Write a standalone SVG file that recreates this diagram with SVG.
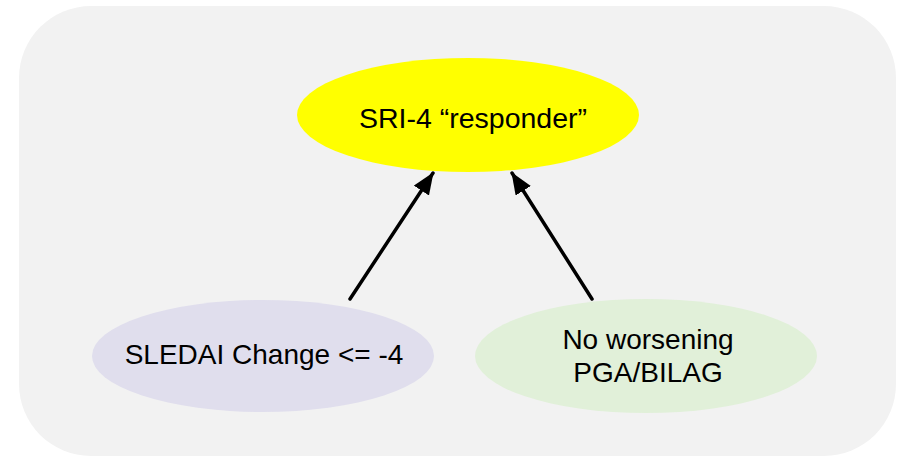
<svg xmlns="http://www.w3.org/2000/svg" width="897" height="456" viewBox="0 0 897 456">
<style>
text{font-family:"Liberation Sans",Arial,sans-serif;fill:#000;text-anchor:middle}
.t{font-size:28.5px}
.b{font-size:28px}
.c{stroke:#000;stroke-width:3.5;fill:none;stroke-linecap:round}
</style>
<defs>
<marker id="ah" markerUnits="userSpaceOnUse" markerWidth="22" markerHeight="18" refX="21" refY="9" orient="auto">
<path d="M0,0 L22,9 L0,18 Z" fill="#000"/>
</marker>
</defs>
<rect x="19" y="6" width="877" height="450" rx="72" ry="72" fill="#f2f2f2"/>
<g id="connectors">
<line class="c" x1="350" y1="299" x2="433" y2="173" marker-end="url(#ah)"/>
<line class="c" x1="592" y1="299" x2="512" y2="173" marker-end="url(#ah)"/>
</g>
<g id="sri4">
<ellipse cx="468" cy="115" rx="171" ry="57" fill="#ffff00"/>
<text class="t" x="473" y="128">SRI-4 “responder”</text>
</g>
<g id="sledai">
<ellipse cx="263" cy="356" rx="171" ry="56" fill="#e0deed"/>
<text class="b" x="264" y="364">SLEDAI Change &lt;= -4</text>
</g>
<g id="noworsening">
<ellipse cx="646" cy="356" rx="171" ry="57" fill="#e1f0d9"/>
<text class="b" x="648" y="349">No worsening</text>
<text class="b" x="648" y="382">PGA/BILAG</text>
</g>
</svg>
